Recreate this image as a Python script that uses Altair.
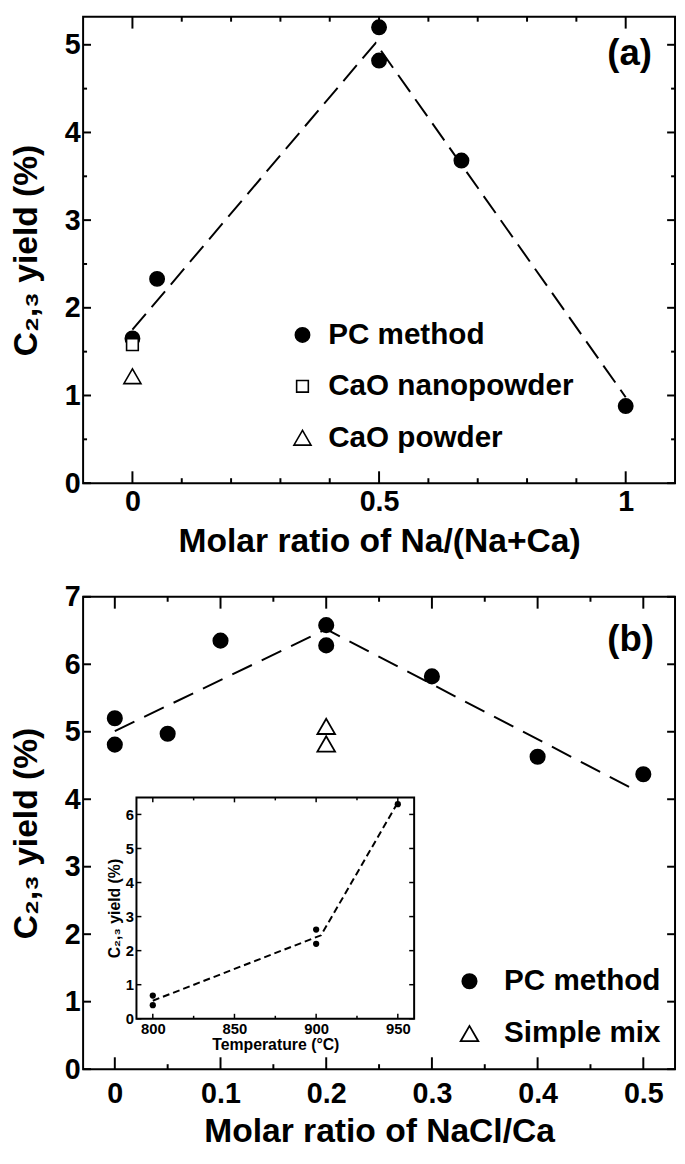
import altair as alt
import pandas as pd

FONT = "Liberation Sans, Arial, Helvetica, sans-serif"

# ---------------- panel (a) ----------------
a_series = ["PC method", "CaO nanopowder", "CaO powder"]
a_pc_x = [0.0, 0.05, 0.5, 0.5, 0.667, 1.0]
a_pc_y = [1.65, 2.33, 5.20, 4.82, 3.68, 0.88]
a_nano_x = [0.0]
a_nano_y = [1.58]
a_powder_x = [0.0]
a_powder_y = [1.22]
a_fit_x = [0.0, 0.493, 1.0]
a_fit_y = [1.75, 5.02, 0.98]

a_x_domain = [-0.1, 1.1]
a_y_domain = [0, 5.32]
a_x_major = [0, 0.5, 1]
a_x_minor = [0.1, 0.2, 0.3, 0.4, 0.6, 0.7, 0.8, 0.9]
a_y_major = [0, 1, 2, 3, 4, 5]
a_y_minor = [0.5, 1.5, 2.5, 3.5, 4.5]

# ---------------- panel (b) ----------------
b_series = ["PC method", "Simple mix"]
b_pc_x = [0.0, 0.0, 0.05, 0.1, 0.2, 0.2, 0.3, 0.4, 0.5]
b_pc_y = [5.20, 4.81, 4.97, 6.35, 6.58, 6.28, 5.82, 4.63, 4.37]
b_mix_x = [0.2, 0.2]
b_mix_y = [5.08, 4.82]
b_fit_x = [0.0, 0.2, 0.493]
b_fit_y = [5.01, 6.52, 4.13]

b_x_domain = [-0.03, 0.53]
b_y_domain = [0, 7]
b_x_major = [0, 0.1, 0.2, 0.3, 0.4, 0.5]
b_x_minor = [0.05, 0.15, 0.25, 0.35, 0.45]
b_y_major = [0, 1, 2, 3, 4, 5, 6, 7]

# ---------------- inset ----------------
in_x = [800, 800, 900, 900, 950]
in_y = [0.68, 0.40, 2.62, 2.20, 6.30]
in_fit_x = [800, 903, 950]
in_fit_y = [0.53, 2.45, 6.35]
in_x_domain = [790, 960]
in_y_domain = [0, 6.5]
in_x_major = [800, 850, 900, 950]
in_x_minor = [825, 875, 925]
in_y_major = [0, 1, 2, 3, 4, 5, 6]

panel_labels = ["(a)", "(b)"]

W = 599
HA = 472
HB = 478
# inset placement inside panel (b) plot area (pixels)
IN_L, IN_R, IN_T, IN_B = 54, 335, 203, 427


def xticks(vals, scale, axis, y0, y1, sw=2):
    df = pd.DataFrame({"v": vals})
    return alt.Chart(df).mark_rule(color="black", strokeWidth=sw).encode(
        x=alt.X("v:Q", scale=scale, axis=axis), y=alt.value(y0), y2=alt.value(y1))


def yticks(vals, scale, axis, x0, x1, sw=2):
    df = pd.DataFrame({"v": vals})
    return alt.Chart(df).mark_rule(color="black", strokeWidth=sw).encode(
        y=alt.Y("v:Q", scale=scale, axis=axis), x=alt.value(x0), x2=alt.value(x1))


# ====== panel (a) ======
a_xs = alt.Scale(domain=a_x_domain, nice=False, zero=False)
a_ys = alt.Scale(domain=a_y_domain, nice=False, zero=False)
a_xax = alt.Axis(values=a_x_major, format="~g", orient="bottom", title="Molar ratio of Na/(Na+Ca)",
                 labelPadding=5, titlePadding=8)
a_yax = alt.Axis(values=a_y_major, format="d", orient="left", title="C₂,₃ yield (%)",
                 labelPadding=3, titlePadding=21)

a_df = pd.DataFrame({
    "x": a_pc_x + a_nano_x + a_powder_x,
    "y": a_pc_y + a_nano_y + a_powder_y,
    "series": [a_series[0]] * len(a_pc_x) + [a_series[1]] * len(a_nano_x) + [a_series[2]] * len(a_powder_x),
})
a_fit = pd.DataFrame({"x": a_fit_x, "y": a_fit_y})

a_legend = alt.Legend(orient="none", legendX=207, legendY=307, title=None, labelFontSize=30,
                      labelFont=FONT, labelFontWeight="bold", labelColor="black", labelLimit=500,
                      rowPadding=22, labelOffset=11, padding=0, symbolStrokeWidth=1.6)

a_points = alt.Chart(a_df).mark_point(strokeWidth=1.6, opacity=1, fillOpacity=1).encode(
    x=alt.X("x:Q", scale=a_xs, axis=a_xax),
    y=alt.Y("y:Q", scale=a_ys, axis=a_yax),
    shape=alt.Shape("series:N", scale=alt.Scale(domain=a_series, range=["circle", "square", "triangle-up"]),
                    legend=a_legend),
    fill=alt.Fill("series:N", scale=alt.Scale(domain=a_series, range=["black", "white", "white"]),
                  legend=a_legend),
    stroke=alt.Stroke("series:N", scale=alt.Scale(domain=a_series, range=["black", "black", "black"]),
                      legend=a_legend),
    size=alt.Size("series:N", scale=alt.Scale(type="ordinal", domain=a_series, range=[210, 140, 300]),
                  legend=a_legend),
)
a_line = alt.Chart(a_fit).mark_line(color="black", strokeWidth=2, strokeDash=[21, 9]).encode(
    x=alt.X("x:Q", scale=a_xs, axis=a_xax), y=alt.Y("y:Q", scale=a_ys, axis=a_yax))
a_label = alt.Chart(pd.DataFrame({"t": [panel_labels[0]]})).mark_text(
    font=FONT, fontSize=37, fontWeight="bold", color="black", align="center", baseline="middle").encode(
    text="t:N", x=alt.value(553), y=alt.value(38))

top = alt.layer(
    a_line, a_points, a_label,
    xticks(a_x_major, a_xs, a_xax, HA, HA - 12), xticks(a_x_minor, a_xs, a_xax, HA, HA - 5),
    xticks(a_x_major, a_xs, a_xax, 0, 12), xticks(a_x_minor, a_xs, a_xax, 0, 5),
    yticks(a_y_major, a_ys, a_yax, 0, 8), yticks(a_y_minor, a_ys, a_yax, 0, 4),
    yticks(a_y_major, a_ys, a_yax, W, W - 8), yticks(a_y_minor, a_ys, a_yax, W, W - 4),
).properties(width=W, height=HA)

# ====== panel (b) ======
b_xs = alt.Scale(domain=b_x_domain, nice=False, zero=False)
b_ys = alt.Scale(domain=b_y_domain, nice=False, zero=False)
b_xax = alt.Axis(values=b_x_major, format="~g", orient="bottom", title="Molar ratio of NaCl/Ca",
                 labelPadding=11, titlePadding=6)
b_yax = alt.Axis(values=b_y_major, format="d", orient="left", title="C₂,₃ yield (%)",
                 labelPadding=3, titlePadding=21)

b_df = pd.DataFrame({
    "x": b_pc_x + b_mix_x,
    "y": b_pc_y + b_mix_y,
    "series": [b_series[0]] * len(b_pc_x) + [b_series[1]] * len(b_mix_x),
})
b_fit = pd.DataFrame({"x": b_fit_x, "y": b_fit_y})

b_legend = alt.Legend(orient="none", legendX=376, legendY=374, title=None, labelFontSize=30,
                      labelFont=FONT, labelFontWeight="bold", labelColor="black", labelLimit=500,
                      rowPadding=23, labelOffset=20, padding=0, symbolStrokeWidth=1.8)

b_points = alt.Chart(b_df).mark_point(strokeWidth=1.8, opacity=1, fillOpacity=1).encode(
    x=alt.X("x:Q", scale=b_xs, axis=b_xax),
    y=alt.Y("y:Q", scale=b_ys, axis=b_yax),
    shape=alt.Shape("series:N", scale=alt.Scale(domain=b_series, range=["circle", "triangle-up"]),
                    legend=b_legend),
    fill=alt.Fill("series:N", scale=alt.Scale(domain=b_series, range=["black", "white"]), legend=b_legend),
    stroke=alt.Stroke("series:N", scale=alt.Scale(domain=b_series, range=["black", "black"]), legend=b_legend),
    size=alt.Size("series:N", scale=alt.Scale(type="ordinal", domain=b_series, range=[210, 320]),
                  legend=b_legend),
)
b_line = alt.Chart(b_fit).mark_line(color="black", strokeWidth=2, strokeDash=[22, 11]).encode(
    x=alt.X("x:Q", scale=b_xs, axis=b_xax), y=alt.Y("y:Q", scale=b_ys, axis=b_yax))
b_label = alt.Chart(pd.DataFrame({"t": [panel_labels[1]]})).mark_text(
    font=FONT, fontSize=37, fontWeight="bold", color="black", align="center", baseline="middle").encode(
    text="t:N", x=alt.value(554), y=alt.value(44))

b_main = alt.layer(
    b_line, b_points, b_label,
    xticks(b_x_major, b_xs, b_xax, HB, HB - 12), xticks(b_x_minor, b_xs, b_xax, HB, HB - 5),
    xticks(b_x_major, b_xs, b_xax, 0, 12), xticks(b_x_minor, b_xs, b_xax, 0, 5),
    yticks(b_y_major, b_ys, b_yax, 0, 8), yticks(b_y_major, b_ys, b_yax, W, W - 8),
)

# ---- inset (own scales mapped onto a sub-rectangle of panel b) ----
in_xs = alt.Scale(domain=in_x_domain, range=[IN_L, IN_R], nice=False, zero=False)
in_ys = alt.Scale(domain=in_y_domain, range=[IN_B, IN_T], nice=False, zero=False)
in_xax = alt.Axis(values=in_x_major, format="d", orient="bottom", offset=-(HB - IN_B),
                  title="Temperature (°C)", labelFontSize=15, titleFontSize=16, labelPadding=3,
                  titlePadding=0, zindex=1)
in_yax = alt.Axis(values=in_y_major, format="d", orient="left", offset=-IN_L,
                  title="C₂,₃ yield (%)", labelFontSize=15, titleFontSize=16, labelPadding=3,
                  titlePadding=3, zindex=1)

in_frame_df = pd.DataFrame({"x": [in_x_domain[0]], "x2": [in_x_domain[1]],
                            "y": [in_y_domain[0]], "y2": [in_y_domain[1]]})
in_frame = alt.Chart(in_frame_df).mark_rect(fill="white", stroke="black", strokeWidth=2).encode(
    x=alt.X("x:Q", scale=in_xs, axis=in_xax), x2="x2:Q",
    y=alt.Y("y:Q", scale=in_ys, axis=in_yax), y2="y2:Q",
)
in_df = pd.DataFrame({"x": in_x, "y": in_y})
in_fit = pd.DataFrame({"x": in_fit_x, "y": in_fit_y})
in_line = alt.Chart(in_fit).mark_line(color="black", strokeWidth=2, strokeDash=[7, 4]).encode(
    x=alt.X("x:Q", scale=in_xs, axis=in_xax), y=alt.Y("y:Q", scale=in_ys, axis=in_yax))
in_points = alt.Chart(in_df).mark_circle(color="black", size=40, opacity=1).encode(
    x=alt.X("x:Q", scale=in_xs, axis=in_xax), y=alt.Y("y:Q", scale=in_ys, axis=in_yax))

b_inset = alt.layer(
    in_frame,
    xticks(in_x_major, in_xs, in_xax, IN_B, IN_B - 5, 1.5), xticks(in_x_minor, in_xs, in_xax, IN_B, IN_B - 3, 1.5),
    xticks(in_x_major, in_xs, in_xax, IN_T, IN_T + 5, 1.5), xticks(in_x_minor, in_xs, in_xax, IN_T, IN_T + 3, 1.5),
    yticks(in_y_major, in_ys, in_yax, IN_L, IN_L + 5, 1.5), yticks(in_y_major, in_ys, in_yax, IN_R, IN_R - 5, 1.5),
    in_line, in_points,
)

bottom = alt.layer(b_main, b_inset).resolve_scale(x="independent", y="independent").properties(
    width=W, height=HB)

chart = alt.vconcat(top, bottom, spacing=23).resolve_scale(
    shape="independent", fill="independent", size="independent", stroke="independent"
).properties(
    padding={"left": 0, "top": 0, "right": 0, "bottom": -4}
).configure_view(stroke="black", strokeWidth=2).configure_axis(
    labelFont=FONT, labelFontWeight="bold", labelFontSize=29, labelColor="black",
    titleFont=FONT, titleFontWeight="bold", titleFontSize=34, titleColor="black",
    ticks=False, domain=False, grid=False, labelFlush=False, labelOverlap=False,
).configure_legend(labelFont=FONT, labelFontWeight="bold", labelColor="black")

chart.save("out.html", embed_options={"renderer": "svg", "actions": False})
